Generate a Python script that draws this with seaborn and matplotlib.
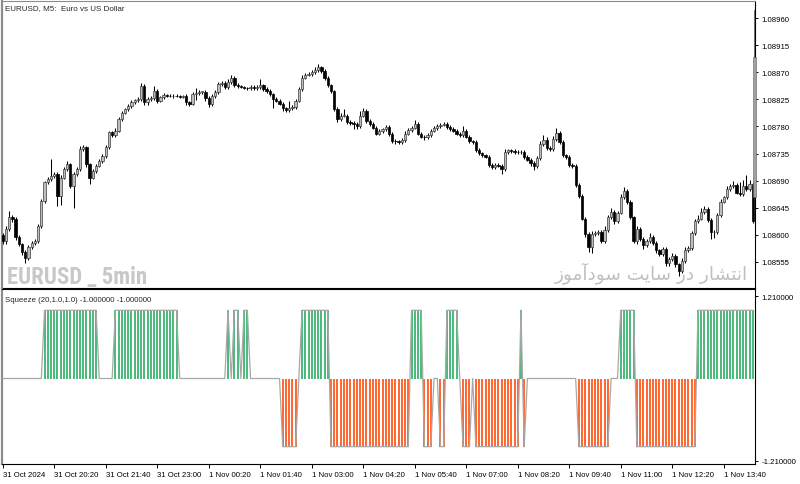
import numpy as np
import pandas as pd
import matplotlib
matplotlib.use("Agg")
import matplotlib.pyplot as plt
import seaborn as sns
from matplotlib import font_manager
from matplotlib.patches import Rectangle

# ---------------- data ----------------
closes = [
    1.08590, 1.08610, 1.08629, 1.08626, 1.08596, 1.08585, 1.08571, 1.08562, 1.08579, 1.08587,
    1.08590, 1.08615, 1.08656, 1.08687, 1.08693, 1.08698, 1.08701, 1.08665, 1.08695, 1.08709,
    1.08717, 1.08681, 1.08701, 1.08709, 1.08742, 1.08745, 1.08717, 1.08695, 1.08706, 1.08715,
    1.08723, 1.08731, 1.08745, 1.08770, 1.08766, 1.08773, 1.08792, 1.08803, 1.08809, 1.08814,
    1.08821, 1.08824, 1.08825, 1.08847, 1.08820, 1.08825, 1.08827, 1.08839, 1.08823, 1.08828,
    1.08832, 1.08831, 1.08830, 1.08831, 1.08830, 1.08829, 1.08830, 1.08820, 1.08818, 1.08834,
    1.08835, 1.08837, 1.08837, 1.08827, 1.08817, 1.08830, 1.08837, 1.08850, 1.08852, 1.08845,
    1.08854, 1.08860, 1.08849, 1.08847, 1.08845, 1.08844, 1.08843, 1.08845, 1.08844, 1.08845,
    1.08848, 1.08842, 1.08839, 1.08833, 1.08825, 1.08823, 1.08818, 1.08810, 1.08807, 1.08810,
    1.08812, 1.08823, 1.08842, 1.08861, 1.08866, 1.08867, 1.08870, 1.08874, 1.08878, 1.08872,
    1.08860, 1.08848, 1.08838, 1.08809, 1.08792, 1.08798, 1.08798, 1.08787, 1.08785, 1.08784,
    1.08781, 1.08798, 1.08806, 1.08789, 1.08784, 1.08778, 1.08768, 1.08772, 1.08775, 1.08779,
    1.08767, 1.08756, 1.08755, 1.08754, 1.08757, 1.08768, 1.08774, 1.08778, 1.08784, 1.08768,
    1.08763, 1.08762, 1.08766, 1.08773, 1.08777, 1.08781, 1.08783, 1.08784, 1.08779, 1.08776,
    1.08773, 1.08768, 1.08765, 1.08772, 1.08763, 1.08755, 1.08754, 1.08741, 1.08735, 1.08732,
    1.08730, 1.08716, 1.08713, 1.08716, 1.08715, 1.08709, 1.08738, 1.08740, 1.08739, 1.08738,
    1.08737, 1.08738, 1.08729, 1.08725, 1.08719, 1.08715, 1.08727, 1.08751, 1.08758, 1.08744,
    1.08742, 1.08759, 1.08769, 1.08754, 1.08732, 1.08729, 1.08716, 1.08714, 1.08683, 1.08664,
    1.08627, 1.08601, 1.08580, 1.08601, 1.08603, 1.08605, 1.08590, 1.08608, 1.08629, 1.08638,
    1.08623, 1.08637, 1.08662, 1.08673, 1.08654, 1.08629, 1.08590, 1.08610, 1.08593, 1.08583,
    1.08590, 1.08597, 1.08587, 1.08574, 1.08568, 1.08576, 1.08553, 1.08560, 1.08565, 1.08551,
    1.08540, 1.08557, 1.08575, 1.08578, 1.08603, 1.08623, 1.08627, 1.08638, 1.08643, 1.08625,
    1.08604, 1.08605, 1.08633, 1.08655, 1.08662, 1.08676, 1.08681, 1.08683, 1.08670, 1.08668,
    1.08681, 1.08676, 1.08685, 1.08623,
]
first_open = 1.08600

# wick extensions beyond the body, in points (0.00001)
upper_wick = [
    3, 4, 10, 4, 3, 3, 2, 3, 4, 3,
    3, 3, 4, 3, 3, 28, 4, 3, 5, 4,
    6, 3, 4, 4, 6, 4, 3, 3, 4, 3,
    3, 4, 4, 3, 3, 4, 3, 3, 2, 3,
    3, 2, 3, 5, 3, 3, 4, 8, 3, 3,
    3, 2, 2, 2, 2, 2, 2, 3, 3, 3,
    8, 3, 2, 3, 3, 3, 3, 4, 4, 3,
    4, 5, 3, 3, 2, 2, 2, 3, 3, 3,
    11, 3, 3, 3, 3, 3, 3, 3, 3, 12,
    4, 3, 4, 4, 3, 3, 3, 4, 5, 3,
    4, 3, 3, 3, 3, 4, 11, 3, 3, 4,
    3, 8, 4, 3, 3, 3, 3, 3, 3, 4,
    3, 3, 3, 3, 3, 4, 4, 3, 7, 4,
    3, 3, 3, 3, 3, 3, 3, 3, 3, 3,
    3, 3, 3, 8, 4, 3, 3, 4, 3, 3,
    3, 3, 3, 3, 4, 3, 5, 3, 3, 3,
    3, 3, 3, 3, 3, 3, 4, 5, 8, 4,
    3, 5, 9, 3, 3, 3, 3, 3, 3, 3,
    3, 3, 3, 6, 3, 3, 3, 6, 4, 6,
    3, 3, 5, 7, 3, 3, 3, 5, 3, 3,
    3, 6, 3, 3, 3, 4, 3, 3, 5, 3,
    3, 4, 4, 3, 4, 4, 6, 7, 4, 3,
    3, 3, 4, 4, 3, 5, 4, 6, 3, 18,
    10, 18, 6, 3,
]
lower_wick = [
    6, 5, 4, 4, 4, 4, 4, 8, 4, 3,
    4, 4, 4, 3, 3, 3, 3, 17, 15, 3,
    3, 4, 36, 3, 3, 3, 4, 11, 3, 3,
    3, 3, 3, 3, 4, 3, 3, 3, 3, 3,
    3, 3, 3, 3, 4, 4, 3, 3, 4, 3,
    2, 2, 2, 3, 2, 2, 2, 4, 4, 3,
    10, 3, 3, 4, 4, 3, 3, 3, 3, 3,
    3, 3, 3, 3, 2, 2, 2, 3, 3, 3,
    3, 3, 3, 3, 14, 3, 3, 4, 3, 3,
    3, 3, 3, 3, 3, 3, 3, 3, 3, 3,
    3, 3, 3, 4, 4, 3, 3, 3, 3, 9,
    5, 3, 3, 4, 3, 3, 3, 3, 3, 3,
    3, 4, 4, 3, 3, 3, 3, 3, 3, 3,
    3, 4, 3, 3, 3, 3, 3, 3, 3, 3,
    3, 3, 3, 3, 3, 3, 3, 3, 3, 3,
    3, 3, 4, 3, 3, 8, 3, 3, 3, 3,
    3, 3, 3, 3, 4, 8, 4, 3, 3, 3,
    3, 3, 3, 3, 3, 3, 3, 3, 3, 3,
    3, 4, 8, 10, 3, 3, 4, 3, 3, 3,
    5, 4, 3, 3, 3, 3, 4, 5, 4, 6,
    3, 3, 4, 4, 3, 3, 4, 5, 3, 4,
    8, 3, 3, 3, 3, 3, 4, 3, 3, 4,
    11, 10, 3, 3, 3, 3, 3, 3, 3, 3,
    3, 3, 3, 4,
]

squeeze = [
    0, 0, 0, 0, 0, 0, 0, 0, 0, 0,
    0, 0, 0, 1, 1, 1, 1, 1, 1, 1,
    1, 1, 1, 1, 1, 1, 1, 1, 1, 1,
    0, 0, 0, 0, 0, 1, 1, 1, 1, 1,
    1, 1, 1, 1, 1, 1, 1, 1, 1, 1,
    1, 1, 1, 1, 1, 0, 0, 0, 0, 0,
    0, 0, 0, 0, 0, 0, 0, 0, 0, 0,
    1, 0, 1, 1, 0, 1, 1, 0, 0, 0,
    0, 0, 0, 0, 0, 0, 0, -1, -1, -1,
    -1, -1, 0, 1, 1, 1, 1, 1, 1, 1,
    1, 1, -1, -1, -1, -1, -1, -1, -1, -1,
    -1, -1, -1, -1, -1, -1, -1, -1, -1, -1,
    -1, -1, -1, -1, -1, -1, -1, 1, 1, 1,
    1, -1, -1, -1, 0, 0, -1, -1, 1, 1,
    1, 1, 0, -1, -1, -1, 0, -1, -1, -1,
    -1, -1, -1, -1, -1, -1, -1, -1, -1, -1,
    -1, 1, -1, 0, 0, 0, 0, 0, 0, 0,
    0, 0, 0, 0, 0, 0, 0, 0, 0, -1,
    -1, -1, -1, -1, -1, -1, -1, -1, -1, 0,
    0, 0, 1, 1, 1, 1, 1, -1, -1, -1,
    -1, -1, -1, -1, -1, -1, -1, -1, -1, -1,
    -1, -1, -1, -1, -1, -1, 1, 1, 1, 1,
    1, 1, 1, 1, 1, 1, 1, 1, 1, 1,
    1, 1, 1, 1,
]

price_ticks = [1.08960, 1.08915, 1.08870, 1.08825, 1.08780, 1.08735, 1.08690, 1.08645, 1.08600, 1.08555]
price_labels = ["1.08960", "1.08915", "1.08870", "1.08825", "1.08780", "1.08735", "1.08690", "1.08645", "1.08600", "1.08555"]
time_tick_bars = [0, 16, 32, 48, 64, 80, 96, 112, 128, 144, 160, 176, 192, 208, 224]
time_labels = ["31 Oct 2024", "31 Oct 20:20", "31 Oct 21:40", "31 Oct 23:00", "1 Nov 00:20",
               "1 Nov 01:40", "1 Nov 03:00", "1 Nov 04:20", "1 Nov 05:40", "1 Nov 07:00",
               "1 Nov 08:20", "1 Nov 09:40", "1 Nov 11:00", "1 Nov 12:20", "1 Nov 13:40"]
squeeze_ticks = [1.21, -1.21]
squeeze_labels = ["1.210000", "-1.210000"]

# ---------------- frame ----------------
df = pd.DataFrame({"close": closes, "uw": upper_wick, "lw": lower_wick, "sq": squeeze})
df["bar"] = np.arange(len(df))
df["open"] = [first_open] + closes[:-1]
df["high"] = df[["open", "close"]].max(axis=1) + df["uw"] * 1e-5
df["low"] = df[["open", "close"]].min(axis=1) - df["lw"] * 1e-5

sns.set_theme(style="white")
plt.rcParams["font.family"] = ["Liberation Sans", "DejaVu Sans"]
plt.rcParams["axes.linewidth"] = 0.8

W, H = 800, 485
fig = plt.figure(figsize=(W / 100, H / 100), dpi=100)
fig.patch.set_facecolor("white")


def px_axes(l, t, r, b):
    return fig.add_axes([l / W, 1 - b / H, (r - l) / W, (b - t) / H])


ax = px_axes(2, 2, 755, 289)
ax2 = px_axes(2, 290, 755, 465)

PX_PER_BAR = 3.219
xmin = -0.7 / PX_PER_BAR
xmax = xmin + 753 / PX_PER_BAR
for a in (ax, ax2):
    a.set_xlim(xmin, xmax)
    a.set_facecolor("white")

# price scale: 1.08960 at y=19px, 27.1 px per 0.00045
ppx = 0.00045 / 27.1
ax.set_ylim(1.08960 - (289 - 19) * ppx, 1.08960 + (19 - 2) * ppx)

# ---------------- candles ----------------
bull = df[df["close"] >= df["open"]]
bear = df[df["close"] < df["open"]]
ax.vlines(df["bar"], df["low"], df["high"], color="black", lw=0.75, zorder=2)
min_h = 0.6 * ppx
ax.bar(bull["bar"], np.maximum(bull["close"] - bull["open"], min_h), bottom=bull["open"],
       width=0.72, color="#bdbdbd", edgecolor="#3c3c3c", linewidth=0.5, zorder=3)
ax.bar(bear["bar"], np.maximum(bear["open"] - bear["close"], min_h), bottom=bear["close"],
       width=0.72, color="black", edgecolor="black", linewidth=0.5, zorder=3)

# ---------------- squeeze pane ----------------
sq_scale = 2.42 / 165.0
ax2.set_ylim(-1.21 - 3 * sq_scale, 1.21 + 7 * sq_scale)
pos = df[df["sq"] > 0]
neg = df[df["sq"] < 0]
ax2.vlines(pos["bar"], 0, pos["sq"], color="#3cb371", lw=1.3, zorder=2)
ax2.vlines(neg["bar"], 0, neg["sq"], color="#ff5a1f", lw=1.3, zorder=2)
sns.lineplot(data=df, x="bar", y="sq", ax=ax2, color="#a8a8a8", lw=0.9, zorder=3, legend=False)
ax2.set_xlabel("")
ax2.set_ylabel("")

# ---------------- axes styling ----------------
for a in (ax, ax2):
    for s in ("top", "right", "bottom"):
        a.spines[s].set_color("black")
        a.spines[s].set_linewidth(0.8)
    a.spines["left"].set_color("#8c8c8c")
    a.spines["left"].set_linewidth(1.6)
ax.spines["top"].set_color("#8c8c8c")

ax.yaxis.tick_right()
ax.set_yticks(price_ticks)
ax.set_yticklabels(price_labels)
ax.tick_params(axis="y", direction="out", length=2.5, width=0.7, pad=2, labelsize=5.6,
               colors="black", right=True, left=False)
ax.set_xticks([])
ax.set_xlabel("")
ax.set_ylabel("")

ax2.yaxis.tick_right()
ax2.set_yticks(squeeze_ticks)
ax2.set_yticklabels(squeeze_labels)
ax2.tick_params(axis="y", direction="out", length=2.5, width=0.7, pad=2, labelsize=5.6,
                colors="black", right=True, left=False)
ax2.set_xticks(time_tick_bars)
ax2.set_xticklabels(time_labels, ha="left")
ax2.tick_params(axis="x", direction="out", length=3, width=0.7, pad=2, labelsize=5.6,
                colors="black", bottom=True)

# right-edge marker of the price pane (y=58..198 px bar, thin line y=10..58 px)
ax.add_patch(Rectangle((0.9975, 0.317), 0.0035, 0.488, transform=ax.transAxes,
                       facecolor="#a0a0a0", edgecolor="#606060", lw=0.4, clip_on=False, zorder=4))
ax.plot([0.9993, 0.9993], [0.805, 0.969], transform=ax.transAxes, color="#555555", lw=0.6,
        clip_on=False, zorder=4)

# ---------------- texts ----------------
fig.text(5 / W, 1 - 9 / H, "EURUSD, M5:  Euro vs US Dollar", fontsize=5.8, va="center", ha="left")
fig.text(5 / W, 1 - 300 / H, "Squeeze (20,1.0,1.0) -1.000000 -1.000000", fontsize=5.6,
         va="center", ha="left")

names = {f.name for f in font_manager.fontManager.ttflist}
wm_family = "Liberation Sans"
for cand in ["Liberation Sans Narrow", "DejaVu Sans Condensed", "Roboto Condensed", "Open Sans Condensed"]:
    if cand in names:
        wm_family = cand
        break
fig.text(7 / W, 1 - 284 / H, "EURUSD _ 5min", fontsize=16.5, fontweight="bold", family=wm_family,
         color="#c8c8c8", va="baseline", ha="left", zorder=0)

fa = "".join(chr(c) for c in [0xFEAF, 0xFEEE, 0xFEE3, 0xFE81, 0xFEA9, 0xFEEE, 0xFEB3, 0x20,
                               0xFE96, 0xFEF3, 0xFE8E, 0xFEB3, 0x20, 0xFEAD, 0xFEA9, 0x20,
                               0xFEAD, 0xFE8E, 0xFEB8, 0xFE98, 0xFEE7, 0xFE8D])
fig.text(555 / W, 1 - 279 / H, fa, fontsize=13.3, family=["DejaVu Sans"], color="#c0c0c0",
         va="baseline", ha="left", zorder=0)

fig.savefig("out.png", dpi=100, facecolor="white")
